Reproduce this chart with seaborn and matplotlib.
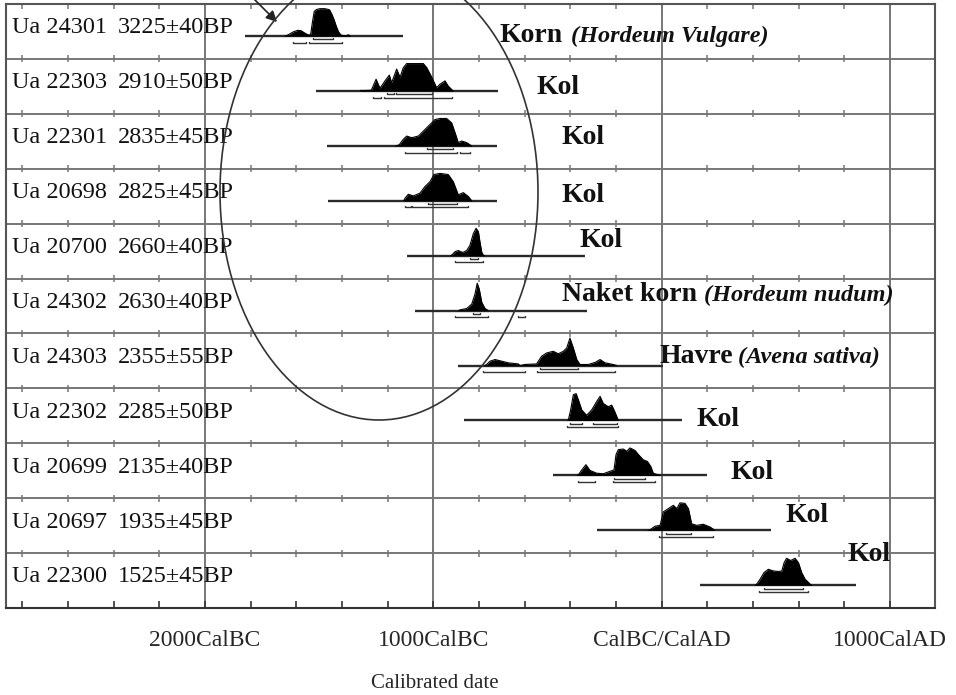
import numpy as np
import pandas as pd
import seaborn as sns
import matplotlib.pyplot as plt
from matplotlib.patches import Ellipse

# sample ids and radiocarbon ages, top to bottom
lab_ids = ['Ua 24301', 'Ua 22303', 'Ua 22301', 'Ua 20698', 'Ua 20700', 'Ua 24302',
           'Ua 24303', 'Ua 22302', 'Ua 20699', 'Ua 20697', 'Ua 22300']
bp_dates = ['3225±40BP', '2910±50BP', '2835±45BP', '2825±45BP', '2660±40BP', '2630±40BP',
            '2355±55BP', '2285±50BP', '2135±40BP', '1935±45BP', '1525±45BP']
materials = ['Korn', 'Kol', 'Kol', 'Kol', 'Kol', 'Naket korn',
             'Havre', 'Kol', 'Kol', 'Kol', 'Kol']
species = ['(Hordeum Vulgare)', '', '', '', '', '(Hordeum nudum)',
           '(Avena sativa)', '', '', '', '']

# extent of the thin base line under each distribution (cal years, BC negative)
base_start = [-1825, -1514, -1467, -1463, -1116, -1082, -891, -866, -476, -282, 168]
base_end = [-1133, -716, -720, -720, -336, -329, 7, 88, 197, 477, 852]

# calibrated probability shapes (relative density)
yrs_24301 = [-1650, -1635, -1615, -1595, -1580, -1565, -1550, -1538, -1530, -1522, -1512,
             -1497, -1475, -1455, -1445, -1435, -1425, -1415, -1405, -1395, -1380, -1372, -1364]
den_24301 = [0, 0.05, 0.15, 0.21, 0.2, 0.12, 0.05, 0.04, 0.5, 0.9, 0.97,
             1.0, 1.0, 0.96, 0.8, 0.6, 0.35, 0.15, 0.04, 0.02, 0.02, 0.05, 0]
yrs_22303 = [-1320, -1300, -1272, -1263, -1251, -1234, -1212, -1193, -1183, -1161, -1146,
             -1132, -1117, -1080, -1044, -1029, -1007, -986, -971, -949, -935, -913]
den_22303 = [0.02, 0.02, 0.03, 0.2, 0.43, 0.1, 0.37, 0.58, 0.3, 0.8, 0.5,
             0.85, 1.0, 1.0, 1.0, 0.85, 0.5, 0.12, 0.25, 0.37, 0.18, 0]
yrs_22301 = [-1165, -1150, -1132, -1117, -1095, -1066, -1037, -1015, -993, -971, -942,
             -920, -905, -891, -876, -854, -832]
den_22301 = [0, 0.04, 0.24, 0.36, 0.3, 0.36, 0.6, 0.78, 0.96, 1.0, 1.0,
             0.84, 0.48, 0.12, 0.18, 0.12, 0]
yrs_20698 = [-1130, -1124, -1110, -1088, -1059, -1037, -1015, -997, -971, -935, -913,
             -891, -869, -847, -832]
den_20698 = [0, 0.1, 0.24, 0.18, 0.28, 0.52, 0.7, 0.96, 1.0, 0.96, 0.7,
             0.22, 0.3, 0.16, 0]
yrs_20700 = [-925, -920, -905, -891, -872, -854, -840, -825, -813, -803, -796, -788, -781, -776]
den_20700 = [0, 0.02, 0.15, 0.19, 0.12, 0.19, 0.38, 0.81, 1.0, 0.88, 0.5, 0.12, 0.02, 0]
yrs_24302 = [-890, -883, -854, -832, -818, -808, -799, -788, -774, -759]
den_24302 = [0, 0.03, 0.08, 0.24, 0.6, 1.0, 0.78, 0.3, 0.08, 0]
yrs_24303 = [-775, -767, -752, -730, -701, -672, -628, -621, -599, -548, -526, -504, -475,
             -453, -431, -416, -402, -387, -372, -358, -321, -290, -270, -248, -212, -197]
den_24303 = [0, 0.04, 0.16, 0.22, 0.16, 0.1, 0.06, 0, 0.04, 0.06, 0.34, 0.46, 0.52,
             0.43, 0.52, 0.64, 1.0, 0.64, 0.22, 0.04, 0.04, 0.12, 0.22, 0.1, 0.04, 0]
yrs_22302 = [-412, -409, -399, -387, -375, -365, -350, -329, -307, -285, -270, -256,
             -234, -219, -205, -190]
den_22302 = [0, 0.02, 0.38, 0.94, 0.98, 0.75, 0.38, 0.19, 0.38, 0.69, 0.88, 0.62,
             0.5, 0.56, 0.31, 0]
yrs_20699 = [-370, -365, -350, -332, -314, -285, -256, -226, -209, -200, -190, -168,
             -153, -139, -117, -102, -81, -63, -48, -37, -20, -7]
den_20699 = [0, 0.02, 0.2, 0.39, 0.18, 0.08, 0.06, 0.15, 0.2, 0.76, 0.94, 0.96,
             0.88, 1.0, 0.91, 0.76, 0.57, 0.51, 0.33, 0.08, 0.03, 0]
yrs_20697 = [-60, -51, -29, -7, 7, 29, 51, 66, 80, 102, 117, 131, 153, 182, 212, 233]
den_20697 = [0, 0.02, 0.15, 0.18, 0.67, 0.79, 0.91, 0.79, 1.0, 0.98, 0.79, 0.24,
             0.18, 0.22, 0.12, 0]
yrs_22300 = [410, 416, 431, 448, 467, 489, 511, 526, 536, 547, 565, 584, 599, 613, 628, 650, 657]
den_22300 = [0, 0.04, 0.22, 0.46, 0.58, 0.52, 0.5, 0.52, 0.82, 0.98, 0.9, 0.98, 0.82,
             0.46, 0.22, 0.04, 0]

# 68.2% and 95.4% ranges
r68 = [[(-1527, -1440)], [(-1205, -1172), (-1165, -1007)], [(-1029, -913)], [(-1022, -898)],
       [(-840, -803)], [(-825, -796)], [(-533, -365)], [(-402, -350), (-302, -197)],
       [(-209, -73)], [(19, 127)], [(448, 618)]]
r95 = [[(-1617, -1560), (-1544, -1402)], [(-1263, -1228), (-1218, -920)],
       [(-1124, -895), (-885, -840)], [(-1124, -1100), (-1092, -847)],
       [(-905, -781)], [(-905, -759), (-628, -599)], [(-781, -599), (-548, -204)],
       [(-413, -190)], [(-365, -292), (-212, -29)], [(-12, 223)], [(428, 642)]]

shapes = [(yrs_24301, den_24301), (yrs_22303, den_22303), (yrs_22301, den_22301),
          (yrs_20698, den_20698), (yrs_20700, den_20700), (yrs_24302, den_24302),
          (yrs_24303, den_24303), (yrs_22302, den_22302), (yrs_20699, den_20699),
          (yrs_20697, den_20697), (yrs_22300, den_22300)]

BASE = 0.585   # base line position inside a row (from its top)
PEAK = 0.5     # height of a full peak in row units

rows = []
for i, (yy, dd) in enumerate(shapes):
    for y_, d_ in zip(yy, dd):
        rows.append({'row': i, 'year': y_, 'y': i + BASE - PEAK * d_})
dist = pd.DataFrame(rows)

sns.set_style("white")
plt.rcParams['font.family'] = ['Liberation Serif', 'DejaVu Serif']

X0, X1 = -2872, 1197
W, H = 956, 695
fig = plt.figure(figsize=(9.56, 6.95), dpi=100)
ax = fig.add_axes([6 / W, 1 - 608 / H, 929 / W, 604 / H])
ax.set_xlim(X0, X1)
ax.set_ylim(11, 0)


def px2yr(px):
    return X0 + (px - 6) / 929 * (X1 - X0)


def py2row(py):
    return (py - 4) / 604 * 11


grey = '#777777'
for k in range(1, 11):
    ax.axhline(k, color=grey, lw=1.4, zorder=1)
for v in [-2000, -1000, 0, 1000]:
    ax.axvline(v, color=grey, lw=1.4, zorder=1)

ticks = np.arange(-2800, 1201, 200)
for k in range(1, 11):
    ax.vlines(ticks, k - 0.065, k + 0.065, color=grey, lw=1.1, zorder=1)
ax.vlines(ticks, 0, 0.09, color=grey, lw=1.1)
ax.vlines(ticks, 11 - 0.13, 11, color='#333333', lw=1.2)

for i in range(11):
    b = i + BASE
    ax.hlines(b, base_start[i], base_end[i], color='#2a2a2a', lw=1.7, zorder=2)
    sub = dist[dist.row == i]
    ax.fill_between(sub.year, sub.y, b, color='black', lw=0, zorder=3)
    for lo, hi in r68[i]:
        yb = b + 0.06
        ax.plot([lo, lo, hi, hi], [yb - 0.018, yb, yb, yb - 0.018], color='#333333', lw=1.0, zorder=3)
    for lo, hi in r95[i]:
        yb = b + 0.12
        ax.plot([lo, lo, hi, hi], [yb - 0.018, yb, yb, yb - 0.018], color='#333333', lw=1.0, zorder=3)

sns.lineplot(data=dist, x='year', y='y', units='row', estimator=None,
             color='black', lw=0.8, ax=ax, zorder=4)

for i in range(11):
    ax.text(px2yr(12), i + 0.535, lab_ids[i], fontsize=17.5, va='baseline', color='#111111')
    ax.text(px2yr(118), i + 0.535, bp_dates[i], fontsize=17.5, va='baseline', color='#111111')

lab_x = [500, 537, 562, 562, 580, 562, 660, 697, 731, 786, 848]
lab_y = [42, 94, 144, 202, 247, 301, 363, 426, 479, 522, 561]
par_x = {0: 571, 5: 704, 6: 738}
for i in range(11):
    ax.text(px2yr(lab_x[i]), py2row(lab_y[i]), materials[i], fontsize=20,
            fontweight='bold', va='baseline', color='#111111', zorder=5)
    if species[i]:
        ax.text(px2yr(par_x[i]), py2row(lab_y[i]), species[i], fontsize=17.5,
                fontweight='bold', fontstyle='italic', va='baseline', color='#111111', zorder=5)

ell = Ellipse((px2yr(379), py2row(192)), 318 / 929 * (X1 - X0), py2row(456) - py2row(0),
              fill=False, ec='#333333', lw=1.2, clip_on=False, zorder=6)
ax.add_patch(ell)
ax.annotate('', xy=(px2yr(279), py2row(24)), xytext=(px2yr(252), py2row(-3)),
            arrowprops=dict(arrowstyle='-|>', color='#222222', lw=1.2, mutation_scale=16),
            annotation_clip=False)

ax.set_xticks([-2000, -1000, 0, 1000])
ax.set_xticklabels(['2000CalBC', '1000CalBC', 'CalBC/CalAD', '1000CalAD'], fontsize=17)
ax.tick_params(axis='x', length=0, pad=16)
ax.set_yticks([])
ax.set_xlabel('')
ax.set_ylabel('')
for s in ax.spines.values():
    s.set_color('#555555')
    s.set_linewidth(1.5)
    s.set_visible(True)
ax.spines['bottom'].set_color('#333333')

fig.text(435 / W, 1 - 683 / H, 'Calibrated date', fontsize=15, ha='center', va='center')

fig.savefig('out.png', dpi=100, facecolor='white')
